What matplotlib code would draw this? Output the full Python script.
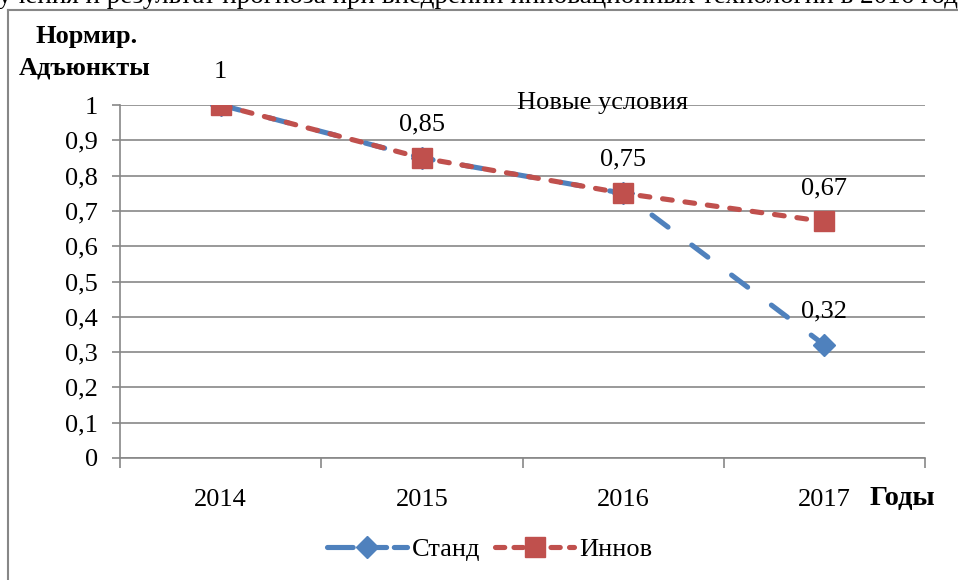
import matplotlib
matplotlib.use("Agg")
import matplotlib.pyplot as plt
from matplotlib.lines import Line2D

years = ["2014", "2015", "2016", "2017"]
stand = [1.0, 0.85, 0.75, 0.32]
innov = [1.0, 0.85, 0.75, 0.67]
label_innov = ["1", "0,85", "0,75", "0,67"]
label_stand = [None, None, None, "0,32"]
yticks = [0, 0.1, 0.2, 0.3, 0.4, 0.5, 0.6, 0.7, 0.8, 0.9, 1.0]
ytick_labels = ["0", "0,1", "0,2", "0,3", "0,4", "0,5", "0,6", "0,7", "0,8", "0,9", "1"]
series_names = ["Станд", "Иннов"]
top_caption = "учения и результат прогноза при внедрении инновационных технологий в 2016 году"

plt.rcParams['font.family'] = ['Liberation Serif', 'DejaVu Serif']

W, H = 958, 580
fig = plt.figure(figsize=(W / 100, H / 100), dpi=100)
fig.patch.set_facecolor('white')

def fx(px):
    return px / W

def fy(py):
    return 1 - py / H

grey = '#878787'
blue = '#4F81BD'
red = '#C0504D'
LW = 3.7
blue_dash = (3.9, 5.8)
red_dash = (1.9, 2.5)

# outer frame (partially visible)
fig.add_artist(Line2D([fx(8), fx(8)], [fy(10), fy(580)], transform=fig.transFigure, color=grey, lw=1.5))
fig.add_artist(Line2D([fx(8), fx(958)], [fy(10), fy(10)], transform=fig.transFigure, color=grey, lw=1.5))

# cropped caption at top
fig.text(fx(-2), fy(3), top_caption, fontsize=19.5, ha='left', va='baseline', color='black')

ax = fig.add_axes([fx(120), fy(458), fx(925) - fx(120), fy(105) - fy(458)])
x = list(range(len(years)))

ax.plot(x, stand, color=blue, lw=LW, dashes=blue_dash, marker='D', markersize=11.5,
        markerfacecolor=blue, markeredgecolor=blue, zorder=3, label=series_names[0],
        dash_capstyle='round')
ax.plot(x, innov, color=red, lw=LW, dashes=red_dash, marker='s', markersize=14,
        markerfacecolor=red, markeredgecolor=red, zorder=4, label=series_names[1],
        dash_capstyle='round')

ax.set_xlim(-0.5, len(years) - 0.5)
ax.set_ylim(0, 1.0)
ax.set_yticks(yticks)
ax.set_yticklabels(ytick_labels, fontsize=19)
ax.set_xticks(x)
ax.set_xticklabels(years, fontsize=19)
ax.set_xticks([i - 0.5 for i in range(len(years) + 1)], minor=True)
ax.tick_params(axis='x', which='major', length=0, pad=22)
ax.tick_params(axis='x', which='minor', length=7, color=grey, width=1.2, direction='out')
ax.tick_params(axis='y', length=6, color=grey, width=1.2, pad=10)
ax.grid(axis='y', color=grey, lw=1.2, zorder=0)
ax.set_axisbelow(True)
for s in ['top', 'right']:
    ax.spines[s].set_visible(False)
for s in ['left', 'bottom']:
    ax.spines[s].set_color(grey)
    ax.spines[s].set_linewidth(1.2)

for xi, v, t in zip(x, innov, label_innov):
    if t:
        ax.annotate(t, (xi, v), xytext=(0, 24), textcoords='offset points', ha='center',
                    va='center', fontsize=19)
for xi, v, t in zip(x, stand, label_stand):
    if t:
        ax.annotate(t, (xi, v), xytext=(0, 24), textcoords='offset points', ha='center',
                    va='center', fontsize=19)

fig.text(fx(603), fy(103), "Новые условия", ha='center', va='center', fontsize=19)
fig.text(fx(87), fy(36), "Нормир.", ha='center', va='center', fontsize=19, fontweight='bold')
fig.text(fx(85), fy(68), "Адъюнкты", ha='center', va='center', fontsize=19, fontweight='bold')
fig.text(fx(902), fy(499), "Годы", ha='center', va='center', fontsize=20.5, fontweight='bold')

handles = [
    Line2D([], [], color=blue, lw=LW, dashes=(5.0, 1.5), marker='D', markersize=11.5,
           dash_capstyle='round'),
    Line2D([], [], color=red, lw=LW, dashes=(1.8, 1.8), marker='s', markersize=14,
           dash_capstyle='round'),
]
fig.legend(handles, series_names, loc='center', bbox_to_anchor=(fx(490), fy(549)), ncol=2,
           frameon=False, fontsize=19, handlelength=3.0, columnspacing=0.55, handletextpad=0.2)

fig.savefig("out.png", dpi=100, facecolor='white')
